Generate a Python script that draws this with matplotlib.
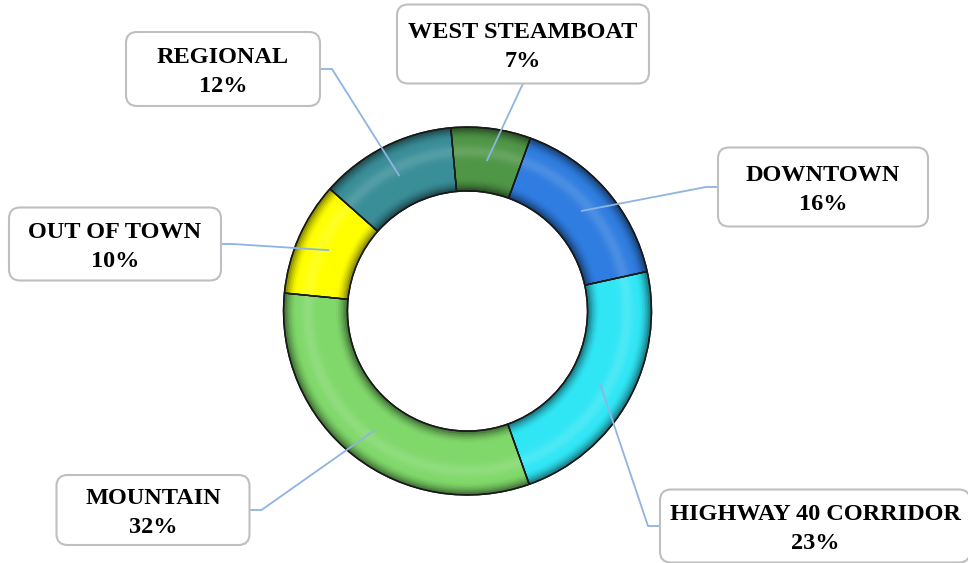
import numpy as np
import matplotlib.pyplot as plt
from matplotlib.patches import Wedge, FancyBboxPatch

plt.rcParams['font.family'] = ['Liberation Serif', 'DejaVu Serif']

# data (Excel order, clockwise from the top right)
categories = ['DOWNTOWN', 'HIGHWAY 40 CORRIDOR', 'MOUNTAIN', 'OUT OF TOWN', 'REGIONAL', 'WEST STEAMBOAT']
shares = [16, 23, 32, 10, 12, 7]
colors = ['#2F7DE0', '#30E6F5', '#80D86A', '#FFFF00', '#3A8E98', '#4F9647']

# label box centres in pixel coords (y from the top) and box sizes
box_xy = [(823, 187), (815, 526), (153, 510), (115, 244), (223, 69), (523, 44)]
box_wh = [(210, 79), (310, 73), (193, 70), (212, 73), (194, 74), (252, 79)]

W, H = 968, 563
cx, cy = 467.5, H - 311
r_out, r_in = 184, 120
start = 70

fig = plt.figure(figsize=(W / 100, H / 100), dpi=100)
ax = fig.add_axes([0, 0, 1, 1])

wedges, _ = ax.pie(shares, colors=colors, startangle=start, counterclock=False,
                   radius=r_out, center=(cx, cy),
                   wedgeprops=dict(width=r_out - r_in, edgecolor='#1a1a1a', linewidth=1.0))

# tube-like shading across the ring
n = 40
edges = np.linspace(r_in, r_out, n + 1)
for i in range(n):
    t = (i + 0.5) / n
    d = abs(t - 0.5)
    a = 0.6 * max(0.0, (d - 0.3) / 0.2) ** 1.8
    ax.add_patch(Wedge((cx, cy), edges[i + 1], 0, 360, width=edges[1] - edges[0],
                       facecolor='black', alpha=a, linewidth=0))
    g = 0.14 * np.exp(-((t - 0.62) / 0.1) ** 2)
    ax.add_patch(Wedge((cx, cy), edges[i + 1], 0, 360, width=edges[1] - edges[0],
                       facecolor='white', alpha=g, linewidth=0))
for w in wedges:
    ax.add_patch(Wedge((cx, cy), r_out, w.theta1, w.theta2, width=r_out - r_in,
                       facecolor='none', edgecolor='#1a1a1a', linewidth=1.0))

# labels with leader lines
total = sum(shares)
ang = start
r_mid = (r_out + r_in) / 2
for cat, val, (bx, by), (bw, bh) in zip(categories, shares, box_xy, box_wh):
    span = 360 * val / total
    mid = np.deg2rad(ang - span / 2)
    ang -= span
    px, py = cx + r_mid * np.cos(mid), cy + r_mid * np.sin(mid)
    byy = H - by
    # leader line to the nearest side of the box
    if abs(px - bx) > bw / 2:
        sx = bx + bw / 2 if px > bx else bx - bw / 2
        kx = sx + (12 if px > bx else -12)
        ax.plot([px, kx, sx], [py, byy, byy], color='#8DB4E2', lw=1.3, zorder=3)
    else:
        sy = byy - bh / 2 if py < byy else byy + bh / 2
        ax.plot([px, bx], [py, sy], color='#8DB4E2', lw=1.3, zorder=3)
    ax.add_patch(FancyBboxPatch((bx - bw / 2, byy - bh / 2), bw, bh,
                                boxstyle='round,pad=0,rounding_size=11',
                                facecolor='white', edgecolor='#BFBFBF', lw=1.5, zorder=4))
    ax.text(bx, byy - 3, f'{cat}\n{val}%', ha='center', va='center', fontsize=17.5,
            fontweight='bold', linespacing=1.45, zorder=5)

ax.set_xlim(0, W)
ax.set_ylim(0, H)
ax.set_aspect('equal')
ax.axis('off')

plt.savefig('out.png', dpi=100)
